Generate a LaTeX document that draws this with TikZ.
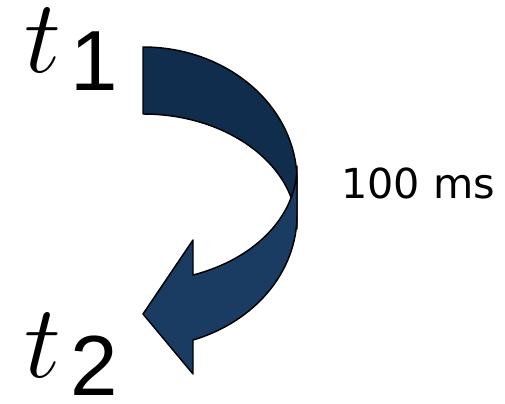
\RequirePackage{fix-cm}
\documentclass[tikz,border=0pt]{standalone}
\usepackage{fontspec}
\newfontfamily\labelfont{DejaVu Sans}
\newfontfamily\subfont{Liberation Sans}
\tikzset{every picture/.style={line width=0.75pt}}
\tikzset{arrowpart/.style={draw=black, line width=1.1, line join=round}}
\tikzset{timelabel/.style={anchor=base west, inner sep=0, font=\fontsize{78}{90}\selectfont}}
\newcommand{\timesub}[1]{$t$\kern 7pt\raisebox{-13.5pt}{\subfont\fontsize{64}{70}\selectfont #1}}

\begin{document}
\begin{tikzpicture}[x=0.75pt,y=0.75pt,yscale=-1,xscale=1]
\useasboundingbox (0,0) rectangle (505,403);

%Shape: Curved Arrow, back part [id:back]
\draw [arrowpart][fill={rgb, 255:red, 17; green, 45; blue, 78 }  ,fill opacity=1 ]  (143,47) .. controls (228,47) and (297,107) .. (297,181) -- (297,229) .. controls (297,165.5) and (228,114) .. (143,114) -- cycle ;
%Shape: Curved Arrow, front part [id:front]
\draw [arrowpart][fill={rgb, 255:red, 26; green, 59; blue, 98 }  ,fill opacity=1 ]  (297,166) -- (297,215) .. controls (297,271.4) and (255.3,321.5) .. (193,340) -- (193,374) -- (143,314) -- (193,240) -- (193,275) .. controls (256.3,258.6) and (297,214.9) .. (297,166) -- cycle ;

% Text Node
\draw (24,72) node [timelabel] (tone) {\timesub{1}};
% Text Node
\draw (24,377) node [timelabel] (ttwo) {\timesub{2}};
% Text Node
\draw (418,183) node (delay) {\fontsize{31}{36}\selectfont\labelfont 100 ms};

\end{tikzpicture}
\end{document}
